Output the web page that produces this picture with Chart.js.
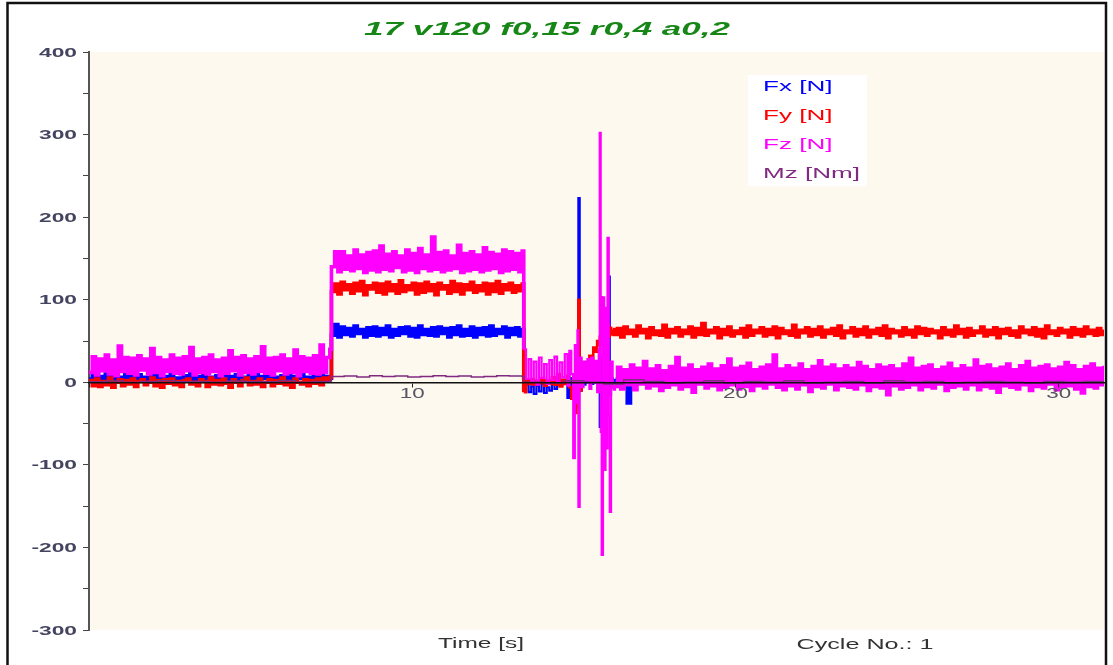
<!DOCTYPE html>
<html><head><meta charset="utf-8">
<script src="https://cdn.jsdelivr.net/npm/chart.js@4.4.1/dist/chart.umd.min.js"></script>
<style>html,body{margin:0;padding:0;background:#fff;overflow:hidden}</style>
</head><body><canvas id="c" width="1113" height="665"></canvas>
<script>
// ---- texts ----
const titleText = '17 v120 f0,15 r0,4 a0,2';
const seriesNames = ['Fx [N]', 'Fy [N]', 'Fz [N]', 'Mz [Nm]'];
const seriesColors = ['#0000ff', '#ff0000', '#ff00ff', '#7f2a80'];
const xAxisLabel = 'Time [s]';
const cycleLabel = 'Cycle No.: 1';
const yTickLabels = [400, 300, 200, 100, 0, -100, -200, -300];
const xTickLabels = [10, 20, 30];

// ---- segment time spans [s] ----
const segA = [0, 7.45];      // before load
const segB = [7.5, 13.4];    // loaded plateau
const segD = [16.25, 31.4];  // after impact
const segMzC = [13.45, 31.4];

// ---- chaos section sample times [s] ----
const chaosTime = [13.45,13.52,13.6,13.68,13.76,13.84,13.92,14.0,14.08,14.16,14.24,14.32,14.4,14.48,14.56,14.64,14.72,14.8,
  14.86,14.92,14.98,15.03,15.08,15.11,15.14,15.18,
  15.24,15.3,15.36,15.42,15.48,15.54,15.6,15.66,15.72,15.77,
  15.8,15.83,15.86,15.9,15.94,15.98,16.01,16.04,16.08,16.11,16.15,16.2];

// ---- Fx [N] ----
const fxA = [4,9,2,7,5,10,3,8,1,6,4,11,2,7,5,9,3,6,1,8,4,10,2,7,6,9,3,5,1,8,4,12,2,7,5,9,3,6,2,8,4,10,1,7,5,9,3,6,2,8,4,11,1,7,5,9,3,6,2,8,4,10,1,7,5,9,3,6,2,8,4,9,3,7,5];
const fxB = [57,70,55,67,58,65,56,68,59,64,55,66,57,67,56,65,58,68,55,64,57,66,59,67,56,65,55,68,58,64,57,66,56,67,59,65,55,66,58,68,56,64,57,67,55,65,58,66,56,68,57,64,59,67,55,65,58,66,56,64];
const fxChaos = [-10,-3,-12,-5,-14,-4,-11,-2,-13,-6,-10,-1,-8,2,-4,3,-2,-19,
  5,-8,10,-5,15,0,223,-10,
  4,-3,6,0,5,-2,4,0,6,-5,
  -54,30,-30,40,-20,50,-10,20,128,-15,5,0];
const fxD = [2,4,1,5,-25,3,6,0,4,2,5,1,3,6,0,4,2,5,1,3,
  6,0,4,2,5,1,3,6,-1,4,2,5,1,3,6,0,4,2,5,1,
  3,6,0,4,2,5,1,3,6,0,4,-2,5,1,3,6,0,4,2,5,
  1,3,6,0,4,2,5,1,3,6,0,4,2,5,1,3,6,0,4,2,
  5,1,3,6,0,4,2,5,1,3,6,0,4,2,5,-1,3,6,0,4,
  2,5,1,3,6,0,4,2,5,1,3,6,0,4,2,5,1,3,6,0,
  4,2,5,1,3,6,0,4,2,5,1,3,6,0,4,2,5,1,3,6,
  0,4,2,5,1,3,6,0,4,2,5,3];

// ---- Fy [N] ----
const fyA = [2,-4,4,-5,1,-3,5,-6,0,3,-4,2,-2,4,-5,1,3,-3,0,5,-4,2,-6,3,-1,4,-3,1,-5,2,4,-2,0,-4,3,1,-5,5,-2,2,-3,4,-1,-6,3,0,-4,2,5,-3,1,-2,4,-5,0,3,-4,2,-1,5,-3,1,-6,4,0,-2,3,-4,2,-1,4,-3,5,3,6];
const fyB = [110,119,107,121,112,118,108,120,111,122,106,117,113,120,109,119,107,121,111,118,108,123,110,117,112,120,107,119,109,121,111,118,106,120,113,117,108,122,110,119,107,118,112,121,109,117,111,120,107,119,110,122,108,118,112,120,109,117,111,119];
const fyChaos = [-12,3,-2,4,-3,2,-1,5,-4,2,-2,6,-3,10,-5,3,-2,8,
  -6,-20,5,-37,10,-30,100,-10,
  5,8,22,18,32,28,42,37,50,45,
  55,103,45,87,60,75,58,70,55,66,58,64];
const fyD = [58,65,55,67,59,63,56,68,60,64,54,66,58,62,57,69,55,64,60,66,56,63,59,67,55,65,58,71,57,63,
  60,66,54,64,58,67,56,62,59,65,55,68,57,63,60,66,56,64,58,67,54,65,59,62,57,69,55,63,60,66,
  56,64,58,67,55,63,59,65,57,68,54,62,60,66,56,64,58,67,55,63,59,65,57,68,54,64,60,62,56,66,
  58,63,55,67,59,65,57,64,60,62,54,66,58,63,56,68,59,64,55,65,57,62,60,67,56,63,58,66,54,64,
  59,65,57,62,55,67,60,63,58,66,56,64,54,68,59,62,57,65,60,63,55,66,58,64,56,67,59,63,57,65,58,64];

// ---- Fz [N] ----
const fzA = [12,31,9,28,14,33,10,27,8,44,13,30,11,29,9,32,15,28,10,41,12,30,8,27,13,33,11,29,10,31,14,42,9,28,12,30,10,33,13,27,8,29,11,38,14,30,9,32,12,28,10,31,13,43,11,29,9,30,14,33,10,28,12,39,8,31,13,29,11,32,10,45,12,30,40];
const fzB = [140,158,134,158,137,153,135,160,138,154,133,157,136,159,134,165,137,155,135,158,139,153,134,160,136,156,133,162,138,154,135,176,137,157,134,159,136,153,138,166,133,156,135,158,137,154,134,163,136,157,138,155,133,160,135,158,137,156,134,159];
const fzChaos = [40,4,28,1,25,-3,30,5,22,-2,27,3,31,0,24,6,34,-4,
  38,10,-92,45,-25,63,-151,30,
  -6,25,2,28,-8,30,0,26,-12,40,
  302,-60,-209,103,-106,90,-80,175,-40,-157,25,-8];
const fzD = [-5,18,-8,15,-3,21,-9,17,-2,25,-7,16,-4,20,-10,14,-6,19,-3,30,-8,17,-5,21,-12,15,-2,18,-7,22,
  -4,16,-9,20,-6,28,-3,17,-8,19,-5,23,-10,15,-4,18,-7,21,-2,33,-6,16,-9,20,-4,17,-8,22,-3,15,
  -11,19,-5,26,-7,18,-2,21,-9,16,-4,20,-6,17,-8,24,-3,19,-10,15,-5,21,-7,18,-15,20,-4,16,-8,22,
  -6,29,-3,17,-9,19,-5,21,-7,15,-2,18,-10,23,-6,16,-4,20,-8,17,-3,27,-9,19,-5,21,-7,16,-12,18,
  -4,22,-6,15,-8,20,-3,25,-10,17,-5,19,-7,21,-2,16,-9,18,-6,24,-4,20,-8,15,-13,19,-5,22,-7,17,-3,20];

// ---- Mz [Nm] ----
const mzA = [0.5,1.5,0,1,2,0.5,1,0,1.5,1,0.5,2,0,1,1.5];
const mzB = [7,7.5,6.5,8,7,7.5,6.5,7,8,7,7.5,6.5,7,8,7.5,7];
const mzC = [0,-1,2,0,-2,3,1,-1,0,2,-1,1,0,2,-1,0,1,-1,2,0,1,-1,0,1,0,-1,1,0,1,0];

// place values of a segment at evenly spaced sample times
function spread(span, vals) {
  const n = vals.length;
  return vals.map((v, i) => ({x: span[0] + (span[1] - span[0]) * i / (n - 1), y: v}));
}
function paired(times, vals) { return vals.map((v, i) => ({x: times[i], y: v})); }

const fxData = [...spread(segA, fxA), ...spread(segB, fxB), ...paired(chaosTime, fxChaos), ...spread(segD, fxD)];
const fyData = [...spread(segA, fyA), ...spread(segB, fyB), ...paired(chaosTime, fyChaos), ...spread(segD, fyD)];
const fzData = [...spread(segA, fzA), ...spread(segB, fzB), ...paired(chaosTime, fzChaos), ...spread(segD, fzD)];
const mzData = [...spread(segA, mzA), ...spread(segB, mzB), ...spread(segMzC, mzC)];

const FONT_T = '"Liberation Sans", Arial, sans-serif';

function drawStretched(ctx, text, x, y, sx, align) {
  ctx.save();
  ctx.translate(x, y);
  ctx.scale(sx, 1);
  ctx.textAlign = align;
  ctx.fillText(text, 0, 0);
  ctx.restore();
}
function fitScale(ctx, text, targetW) { return targetW / ctx.measureText(text).width; }

const decor = {
  id: 'decor',
  beforeDraw(chart) {
    const {ctx, chartArea: a} = chart;
    ctx.save();
    ctx.fillStyle = '#ffffff';
    ctx.fillRect(0, 0, chart.width, chart.height);
    ctx.fillStyle = '#fef9ee';
    ctx.fillRect(a.left, a.top, a.right - a.left, a.bottom - a.top);
    ctx.restore();
  },
  afterDraw(chart) {
    const ctx = chart.ctx;
    const xs = chart.scales.x, ys = chart.scales.y;
    ctx.save();
    ctx.textBaseline = 'middle';
    // y tick labels
    ctx.font = 'bold 13px ' + FONT_T;
    ctx.fillStyle = '#444460';
    yTickLabels.forEach(v => drawStretched(ctx, String(v), 77, ys.getPixelForValue(v) + 1, 1.75, 'right'));
    // x tick labels
    ctx.font = '14px ' + FONT_T;
    ctx.fillStyle = '#555566';
    const zeroY = ys.getPixelForValue(0);
    xTickLabels.forEach(v => drawStretched(ctx, String(v), xs.getPixelForValue(v), zeroY + 12, 1.6, 'center'));
    // title
    ctx.font = 'bold italic 19px ' + FONT_T;
    ctx.fillStyle = '#168716';
    drawStretched(ctx, titleText, 547, 30, fitScale(ctx, titleText, 366), 'center');
    // legend box
    ctx.fillStyle = '#ffffff';
    ctx.fillRect(748, 75, 119, 111);
    ctx.font = '14px ' + FONT_T;
    const sx = fitScale(ctx, seriesNames[3], 97);
    const ly = [87, 116, 145, 174];
    seriesNames.forEach((s, i) => {
      ctx.fillStyle = seriesColors[i];
      drawStretched(ctx, s, 763, ly[i], sx, 'left');
    });
    // bottom labels
    ctx.font = '15px ' + FONT_T;
    ctx.fillStyle = '#333333';
    drawStretched(ctx, xAxisLabel, 481, 644, fitScale(ctx, xAxisLabel, 86), 'center');
    drawStretched(ctx, cycleLabel, 865, 645, fitScale(ctx, cycleLabel, 137), 'center');
    // outer frame
    ctx.strokeStyle = '#111111';
    ctx.lineWidth = 2.5;
    ctx.beginPath();
    ctx.moveTo(7.5, 665); ctx.lineTo(7.5, 3); ctx.lineTo(1106, 3); ctx.lineTo(1106, 665);
    ctx.stroke();
    ctx.restore();
  }
};

const inChaos = c => c.p0.parsed.x >= 13.44 && c.p1.parsed.x <= 16.21;
const ds = (label, data, color, order, w, wChaos) => ({
  label, data, borderColor: color, backgroundColor: color, borderWidth: w,
  pointRadius: 0, tension: 0, fill: false, order, stepped: 'before',
  borderJoinStyle: 'miter', borderCapStyle: 'butt',
  segment: {borderWidth: c => inChaos(c) ? wChaos : w}
});

new Chart(document.getElementById('c').getContext('2d'), {
  type: 'line',
  data: {
    datasets: [
      ds(seriesNames[3], mzData, seriesColors[3], 0, 1.5, 1.5),
      ds(seriesNames[2], fzData, seriesColors[2], 1, 3.6, 2.2),
      ds(seriesNames[1], fyData, seriesColors[1], 2, 3.6, 2.6),
      ds(seriesNames[0], fxData, seriesColors[0], 3, 3.6, 2.2)
    ]
  },
  options: {
    responsive: false,
    animation: false,
    devicePixelRatio: 1,
    layout: {padding: {top: 52, bottom: 35, right: 9, left: 0}},
    plugins: {legend: {display: false}, tooltip: {enabled: false}, title: {display: false}},
    scales: {
      x: {
        type: 'linear', min: 0, max: 31.4,
        position: {y: 0},
        afterBuildTicks(s) { s.ticks = [0, ...xTickLabels].map(v => ({value: v})); },
        ticks: {display: false},
        grid: {drawOnChartArea: false, drawTicks: true, tickLength: 4, color: '#222222', z: 1},
        border: {display: true, color: '#111111', width: 1.5, z: 1}
      },
      y: {
        min: -300, max: 400,
        afterBuildTicks(s) {
          const t = [];
          for (let v = -300; v <= 400; v += 50) t.push({value: v});
          s.ticks = t;
        },
        ticks: {display: false},
        grid: {drawOnChartArea: false, drawTicks: true, tickLength: 6, color: '#444444'},
        border: {display: true, color: '#555555', width: 2},
        afterFit(s) { s.width = 89; }
      }
    }
  },
  plugins: [decor]
});
</script>
</body></html>
